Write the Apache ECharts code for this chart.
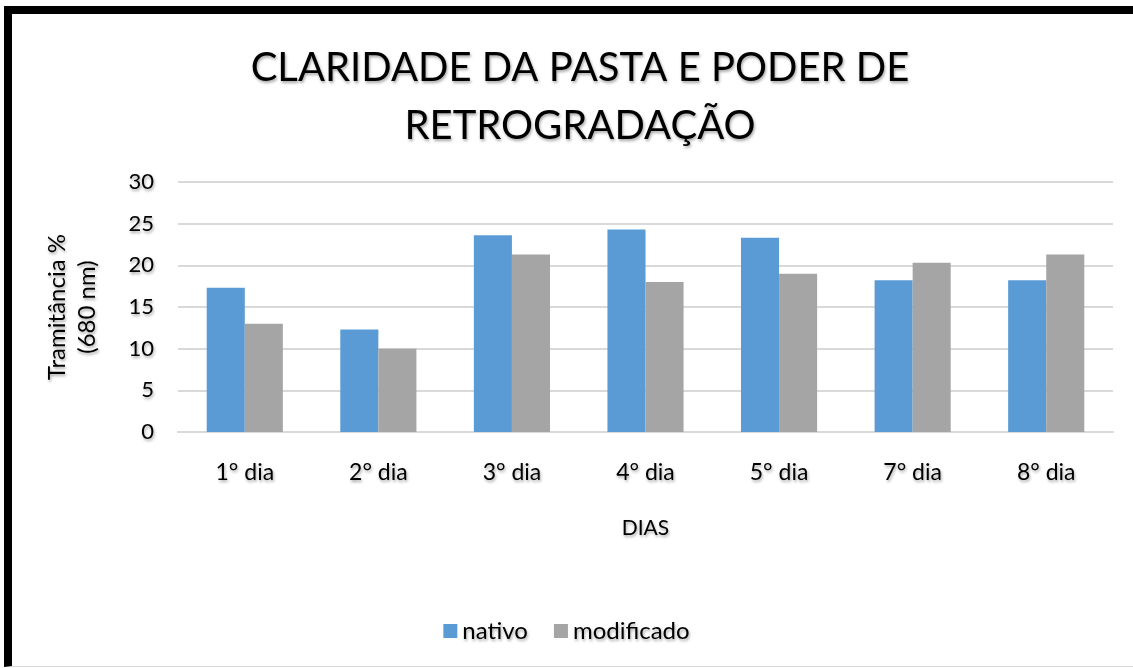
<!DOCTYPE html>
<html>
<head>
<meta charset="utf-8">
<script src="https://cdn.jsdelivr.net/npm/echarts@6/dist/echarts.min.js"></script>
<style>
  html, body { margin: 0; padding: 0; background: #fff; }
  .frame {
    position: absolute;
    left: 4px; top: 6px;
    width: 1129px; height: 661px;
    border-left: 8px solid #000;
    border-top: 8px solid #000;
    border-bottom: 1px solid #d9d9d9;
    box-sizing: border-box;
  }
  #chart { position: absolute; left: 0; top: 0; width: 1133px; height: 668px; }
</style>
</head>
<body>
<div class="frame"></div>
<div id="chart"></div>
<script>
// dados
const dias = ['1° dia', '2° dia', '3° dia', '4° dia', '5° dia', '7° dia', '8° dia']
const nativo = [17.3, 12.3, 23.6, 24.3, 23.3, 18.2, 18.2]
const modificado = [13, 10, 21.3, 18, 19, 20.3, 21.3]

const shadow = {
  textShadowColor: 'rgba(0,0,0,0.35)',
  textShadowBlur: 3,
  textShadowOffsetX: 1,
  textShadowOffsetY: 2
}
const fontName = 'Lato'

var myChart = echarts.init(document.getElementById('chart'))
const option = {
  animation: false,
  title: {
    text: 'CLARIDADE DA PASTA E PODER DE\nRETROGRADAÇÃO',
    left: 575,
    top: 34,
    textAlign: 'center',
    textStyle: Object.assign({
      fontFamily: fontName,
      fontSize: 40,
      fontWeight: 'normal',
      color: '#000',
      lineHeight: 58
    }, shadow)
  },
  legend: {
    bottom: 20,
    left: 'center',
    itemWidth: 14,
    itemHeight: 14,
    itemGap: 26,
    icon: 'rect',
    textStyle: Object.assign({
      fontFamily: fontName,
      fontSize: 24,
      color: '#000'
    }, shadow),
    data: ['nativo', 'modificado']
  },
  grid: {
    left: 178,
    right: 20,
    top: 182,
    bottom: 236,
    containLabel: false
  },
  xAxis: {
    type: 'category',
    data: dias,
    name: 'DIAS',
    nameLocation: 'middle',
    nameGap: 86,
    nameTextStyle: Object.assign({
      fontFamily: fontName,
      fontSize: 21,
      color: '#000'
    }, shadow),
    axisLine: { lineStyle: { color: '#d9d9d9', width: 2 } },
    axisTick: { show: false },
    axisLabel: Object.assign({
      fontFamily: fontName,
      fontSize: 23,
      color: '#000',
      margin: 29
    }, shadow)
  },
  yAxis: {
    type: 'value',
    min: 0,
    max: 30,
    interval: 5,
    name: 'Tramitância %\n(680 nm)',
    nameLocation: 'middle',
    nameGap: 76,
    nameRotate: 90,
    nameTextStyle: Object.assign({
      fontFamily: fontName,
      fontSize: 24,
      color: '#000',
      lineHeight: 30
    }, shadow),
    axisLabel: Object.assign({
      fontFamily: fontName,
      fontSize: 22,
      color: '#000',
      margin: 24
    }, shadow),
    splitLine: { lineStyle: { color: '#d9d9d9', width: 2 } }
  },
  series: [
    {
      name: 'nativo',
      type: 'bar',
      data: nativo,
      barWidth: '28.5%',
      barGap: '0%',
      itemStyle: { color: '#5b9bd5' }
    },
    {
      name: 'modificado',
      type: 'bar',
      data: modificado,
      barWidth: '28.5%',
      itemStyle: { color: '#a5a5a5' }
    }
  ]
}
myChart.setOption(option)
</script>
</body>
</html>
